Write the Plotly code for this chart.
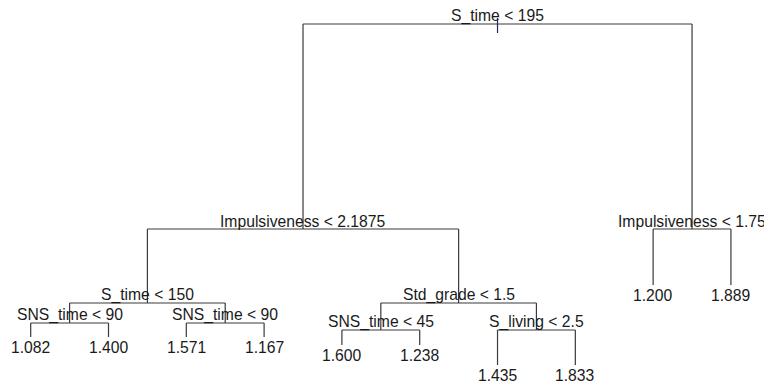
import plotly.graph_objects as go

# R-style node numbering: children of node n are 2n and 2n+1
split_nodes = [1, 2, 4, 8, 9, 5, 10, 11, 3]
split_labels = ["S_time < 195", "Impulsiveness < 2.1875", "S_time < 150",
                "SNS_time < 90", "SNS_time < 90", "Std_grade < 1.5",
                "SNS_time < 45", "S_living < 2.5", "Impulsiveness < 1.75"]
# deviance reduction of each split (sets branch lengths, proportional plot)
split_drop = [20.5, 7.4, 2.0, 1.4, 1.4, 2.7, 1.5, 3.5, 5.6]

leaf_nodes = [16, 17, 18, 19, 20, 21, 22, 23, 6, 7]
leaf_values = [1.082, 1.400, 1.571, 1.167, 1.600, 1.238, 1.435, 1.833, 1.200, 1.889]

drop = dict(zip(split_nodes, split_drop))
label = dict(zip(split_nodes, split_labels))
leafval = dict(zip(leaf_nodes, leaf_values))
internal = set(split_nodes)

# layout: leaves at 1..n in order, internal nodes at midpoint of children
xpos, ypos = {}, {}
counter = [0]

def place(n, y):
    ypos[n] = y
    if n in internal:
        place(2 * n, y - drop[n])
        place(2 * n + 1, y - drop[n])
        xpos[n] = (xpos[2 * n] + xpos[2 * n + 1]) / 2
    else:
        counter[0] += 1
        xpos[n] = counter[0]

place(1, 0.0)

lx, ly = [], []
for n in split_nodes:
    l, r = 2 * n, 2 * n + 1
    lx += [xpos[l], xpos[r], None]
    ly += [ypos[n], ypos[n], None]
    for c in (l, r):
        lx += [xpos[c], xpos[c], None]
        ly += [ypos[n], ypos[c], None]

fig = go.Figure()
fig.add_trace(go.Scatter(x=lx, y=ly, mode="lines",
                         line=dict(color="#3a3a3a", width=1.2),
                         hoverinfo="skip", showlegend=False))
# small root stem
fig.add_trace(go.Scatter(x=[xpos[1], xpos[1]], y=[ypos[1] + 0.6, ypos[1] - 0.9],
                         mode="lines", line=dict(color="#2a2a60", width=1.2),
                         hoverinfo="skip", showlegend=False))

font = dict(family="Liberation Sans, Arial, sans-serif", size=15.7, color="#1a1a1a")
for n in split_nodes:
    fig.add_annotation(x=xpos[n], y=ypos[n], text=label[n], showarrow=False,
                       xanchor="center", yanchor="middle", yshift=8, font=font)
for n in leaf_nodes:
    fig.add_annotation(x=xpos[n], y=ypos[n], text=f"{leafval[n]:.3f}", showarrow=False,
                       xanchor="center", yanchor="middle", yshift=-10, font=font)

fig.update_layout(
    width=764, height=382,
    margin=dict(l=0, r=0, t=0, b=0),
    paper_bgcolor="white", plot_bgcolor="white",
    xaxis=dict(visible=False, range=[0.6054, 10.425], fixedrange=True),
    yaxis=dict(visible=False, range=[-35.8, 2.4], fixedrange=True),
)
fig.write_html("out.html", config={"displayModeBar": False},
               post_script="document.body.style.margin='0';document.body.style.overflow='hidden';")
